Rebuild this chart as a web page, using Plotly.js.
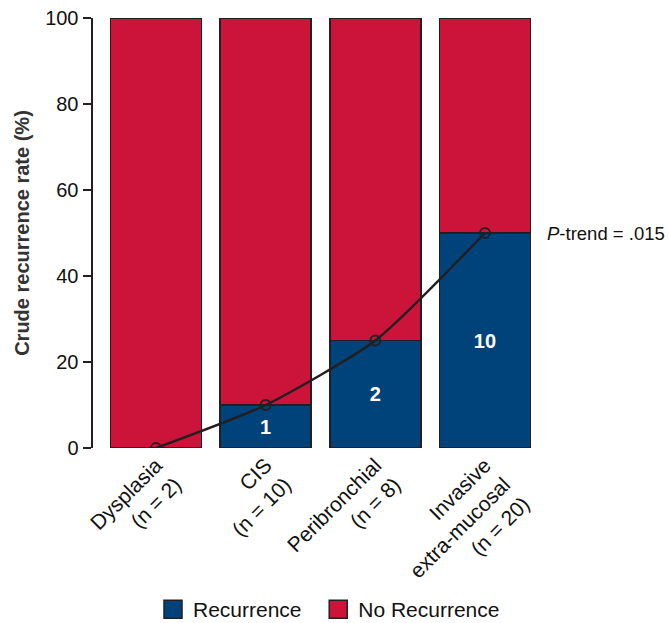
<!DOCTYPE html>
<html>
<head>
<meta charset="utf-8">
<script src="https://cdn.plot.ly/plotly-3.0.1.min.js"></script>
<style>
  html, body { margin: 0; padding: 0; background: #fff; }
  #chart { width: 669px; height: 623px; }
</style>
</head>
<body>
<div id="chart"></div>
<script>
// Lesion categories and group sizes
const categoryNames = ["Dysplasia", "CIS", "Peribronchial", "Invasive<br>extra-mucosal"];
const groupSizes = [2, 10, 8, 20];
// Number of patients with recurrence per category
const recurrenceCounts = [0, 1, 2, 10];
const yTicks = [0, 20, 40, 60, 80, 100];
const seriesNames = ["Recurrence", "No Recurrence"];
const trendLabel = "<i>P</i>-trend = .015";

const categories = categoryNames.map((c, i) => c + "<br>(n = " + groupSizes[i] + ")");
const recurrencePct = recurrenceCounts.map((c, i) => c / groupSizes[i] * 100);
const noRecurrencePct = recurrencePct.map(v => 100 - v);
const barText = recurrenceCounts.map(c => c > 0 ? String(c) : "");

const BLUE = "#00427A";
const RED = "#CC143A";
const INK = "#231F20";
const FONT = "Liberation Sans, Arial, Helvetica, sans-serif";
const NBSP = "\u00a0";

const traces = [
  {
    type: "bar", name: seriesNames[0] + NBSP + NBSP, x: categories, y: recurrencePct,
    marker: { color: BLUE, line: { color: INK, width: 1.5 } },
    text: barText, textposition: "inside", insidetextanchor: "middle",
    textfont: { color: "#fff", size: 20, family: FONT, weight: "bold" },
    hoverinfo: "skip"
  },
  {
    type: "bar", name: seriesNames[1], x: categories, y: noRecurrencePct,
    marker: { color: RED, line: { color: INK, width: 1.5 } },
    hoverinfo: "skip"
  },
  {
    type: "scatter", mode: "lines+markers", x: categories, y: recurrencePct,
    line: { color: INK, width: 2.4, shape: "spline", smoothing: 0.6 },
    marker: { symbol: "circle-open", size: 10, color: INK, line: { width: 1.8, color: INK } },
    showlegend: false, hoverinfo: "skip"
  }
];

const layout = {
  width: 669, height: 623,
  margin: { l: 93, r: 138, t: 18, b: 175, autoexpand: false },
  paper_bgcolor: "#fff", plot_bgcolor: "#fff",
  font: { family: FONT, size: 20, color: "#111" },
  barmode: "stack",
  bargap: 0.17,
  showlegend: true,
  legend: {
    orientation: "h", x: 0.137, xanchor: "left", y: -0.328, yanchor: "top",
    font: { size: 21, family: FONT, color: "#111" },
    traceorder: "normal", itemwidth: 30
  },
  xaxis: {
    type: "category", range: [-0.575, 3.42], automargin: false,
    showline: false, ticks: "", tickangle: -45,
    tickfont: { size: 21, family: FONT, color: "#111" },
    showgrid: false, zeroline: false, fixedrange: true
  },
  yaxis: {
    range: [0, 100], tickvals: yTicks, automargin: false,
    showline: true, linecolor: INK, linewidth: 2.5,
    ticks: "outside", ticklen: 8, tickwidth: 2.5, tickcolor: INK,
    tickfont: { size: 20, family: FONT, color: "#111" },
    showgrid: false, zeroline: false,
    title: { text: "<b>Crude recurrence rate (%)</b>", standoff: 10,
             font: { size: 20, family: FONT, color: "#333" } }
  },
  annotations: [
    {
      xref: "paper", yref: "y", x: 1.033, y: recurrencePct[3],
      xanchor: "left", yanchor: "middle", showarrow: false,
      text: trendLabel, font: { size: 18.5, family: FONT, color: "#111" }
    }
  ]
};

Plotly.newPlot("chart", traces, layout, { staticPlot: true, displayModeBar: false }).then(gd => {
  // larger square swatches in the legend
  gd.querySelectorAll(".legendpoints path").forEach(p => p.setAttribute("d", "M9,9H-9V-9H9Z"));
});
</script>
</body>
</html>
